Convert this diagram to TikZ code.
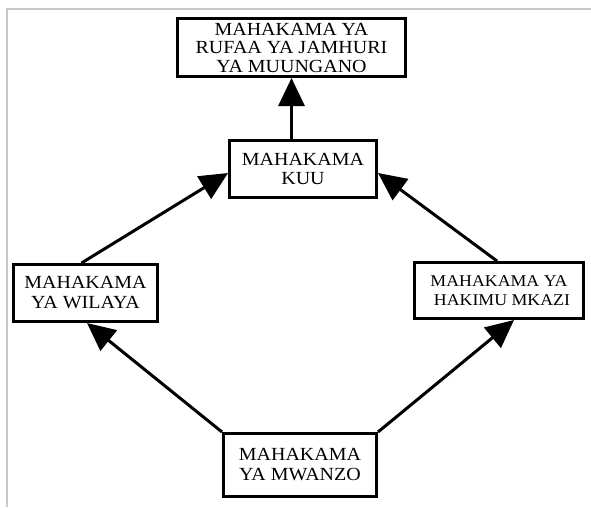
\documentclass[tikz,border=0pt]{standalone}
\usepackage{fontspec}
\setmainfont{Liberation Serif}[FakeStretch=1.08]
\usetikzlibrary{arrows.meta}
\begin{document}
\begin{tikzpicture}[x=1pt,y=-1pt,
  box/.style={draw=black, line width=3pt, fill=white, inner sep=0pt, align=center},
  fA/.style={font=\fontsize{18.5}{18.5}\selectfont},
  fB/.style={font=\fontsize{18.5}{20}\selectfont},
  fC/.style={font=\fontsize{16.5}{19}\selectfont},
  arr/.style={line width=3pt, -{Triangle[length=28pt,width=26pt]}},
  frame/.style={draw=black!22, line width=2pt}]
\useasboundingbox (0,0) rectangle (591,507);
\draw[frame] (7,507) -- (7,9) -- (591,9);
\node[box, fA, minimum width=228pt, minimum height=58pt] (top) at (291.5,47.5) {MAHAKAMA YA\\RUFAA YA JAMHURI\\YA MUUNGANO};
\node[box, fA, minimum width=147pt, minimum height=57pt] (kuu) at (303,169) {MAHAKAMA\\KUU};
\node[box, fB, minimum width=144pt, minimum height=57pt] (wil) at (85.5,293) {MAHAKAMA\\YA WILAYA};
\node[box, fC, minimum width=169pt, minimum height=56pt] (hak) at (499,290.5) {MAHAKAMA YA\\\hspace*{6pt}HAKIMU MKAZI};
\node[box, fB, minimum width=153pt, minimum height=63pt] (mwa) at (300,465) {MAHAKAMA\\YA MWANZO};
\draw[arr] (top.south |- kuu.north) -- (top.south);
\draw[arr] ([xshift=-4pt]wil.north) -- ([yshift=-4pt]kuu.west);
\draw[arr] ([xshift=-2pt]hak.north) -- ([yshift=-4pt]kuu.east);
\draw[arr] (mwa.north west) -- ([xshift=1.5pt]wil.south);
\draw[arr] (mwa.north east) -- ([xshift=15pt]hak.south);
\end{tikzpicture}
\end{document}
